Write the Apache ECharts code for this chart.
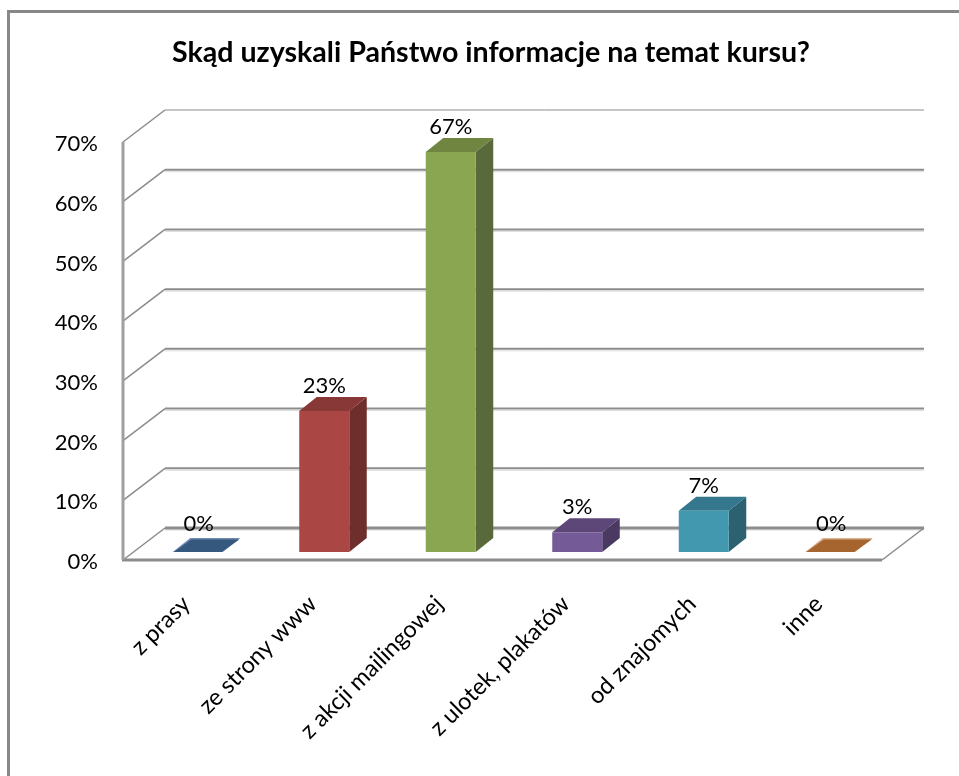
<!DOCTYPE html>
<html><head><meta charset="utf-8">
<style>html,body{margin:0;padding:0;background:#fff}#c{width:959px;height:776px}</style>
<script src="https://cdn.jsdelivr.net/npm/echarts@6/dist/echarts.min.js"></script>
</head><body><div id="c"></div>
<script>
const titleText = 'Skąd uzyskali Państwo informacje na temat kursu?';
const categories = ['z prasy','ze strony www','z akcji mailingowej','z ulotek, plakatów','od znajomych','inne'];
const values = [0, 23.6, 67, 3.3, 6.9, 0];
const valueLabels = ['0%','23%','67%','3%','7%','0%'];
const yTicks = [0,10,20,30,40,50,60,70];
const frontColors = ['#35587f','#aa4644','#8aa650','#745a96','#4299af','#a6652e'];
const topColors   = ['#6f8bb0','#883937','#6f8540','#5c4778','#35778c','#d9b08f'];
const sideColors  = ['#2b4766','#6e2e2c','#59693a','#4a3960','#2b6170','#84501f'];

const DX = 42, DY = 32;            // wall depth
const BX = 11.5, BY = 8;           // bar inset from the front of the floor
const bDX = 17.5, bDY = 14;        // bar depth
const BAR = 50;
const FONT = 'Lato';
const GREY = '#8c8c8c';

function poly(pts, fill, z2){ return {type:'polygon',shape:{points:pts},style:{fill:fill},z2:z2||0}; }
function line(pts, color, w){ return {type:'polyline',shape:{points:pts},style:{stroke:color,lineWidth:w,fill:null}}; }

const chart = echarts.init(document.getElementById('c'),null,{renderer:'canvas'});
chart.setOption({
  animation:false,
  backgroundColor:'#fff',
  title:{text:titleText,left:172,top:38,padding:0,
    textStyle:{fontFamily:FONT,fontWeight:'bold',fontSize:28.6,color:'#000'}},
  grid:{left:123,top:142,width:759,height:418,containLabel:false},
  xAxis:{type:'category',data:categories,boundaryGap:true,
    axisLine:{show:false},axisTick:{show:false},splitLine:{show:false},
    axisLabel:{interval:0,rotate:45,margin:40,fontFamily:FONT,fontSize:23.5,color:'#000'}},
  yAxis:{type:'value',min:0,max:70,interval:10,
    axisLine:{show:false},axisTick:{show:false},splitLine:{show:false},
    axisLabel:{formatter:'{value}%',margin:25,fontFamily:FONT,fontSize:22,color:'#000',verticalAlign:'top',lineHeight:4}},
  graphic:[
    {type:'line',shape:{x1:8.5,y1:11,x2:8.5,y2:776},style:{stroke:'#888',lineWidth:3}},
    {type:'line',shape:{x1:7,y1:11.5,x2:959,y2:11.5},style:{stroke:'#888',lineWidth:3}}
  ],
  series:[
    {type:'custom',coordinateSystem:'cartesian2d',clip:false,z:1,silent:true,
     data:yTicks.map(v=>[0,v]),
     encode:{x:0,y:1},
     renderItem(params,api){
       const cs=params.coordSys, v=api.value(1), y=api.coord([0,v])[1];
       const L=cs.x, R=cs.x+cs.width;
       const kids=[];
       const w = v===70?1:(v===0?3:2);
       if(v!==70) kids.push(line([[L+DX,y-DY+2],[R+DX,y-DY+2]],'#dcdcdc',1));
       kids.push(line([[L+DX,y-DY],[R+DX,y-DY]],GREY,w));
       kids.push(line([[L,y],[L+DX,y-DY]],GREY,1.5));
       if(v===0){
         kids.push(line([[L-1,y],[R,y]],GREY,3));
         kids.push(line([[R,y],[R+DX,y-DY]],GREY,1.5));
       }
       if(v===70) kids.push(line([[L,y],[L,y+cs.height]],'#a0a0a0',3));
       return {type:'group',children:kids};
     }},
    {type:'custom',coordinateSystem:'cartesian2d',clip:false,z:2,silent:true,
     data:values.map((v,i)=>[i,v]),
     encode:{x:0,y:1},
     renderItem(params,api){
       const i=api.value(0), v=api.value(1);
       const base=api.coord([i,0]), tp=api.coord([i,v]);
       const x0=base[0]+BX-BAR/2, x1=x0+BAR, yb=base[1]-BY, yt=tp[1]-BY;
       const kids=[];
       kids.push(poly([[x1,yt],[x1+bDX,yt-bDY],[x1+bDX,yb-bDY],[x1,yb]],sideColors[i]));
       kids.push(poly([[x0,yt],[x0+bDX,yt-bDY],[x1+bDX,yt-bDY],[x1,yt]],topColors[i]));
       if(v>0){
         kids.push(poly([[x0,yt],[x1,yt],[x1,yb],[x0,yb]],frontColors[i]));
       } else {
         kids.push(poly([[x0+1,yb],[x0+bDX+1,yb-bDY+1.5],[x1+bDX-1,yb-bDY+1.5],[x1-1,yb]],frontColors[i]));
       }
       kids.push({type:'text',style:{text:valueLabels[i],x:(x0+x1)/2+(v>0?0:1),y:yt-bDY-(v>0?0:3),
         align:'center',verticalAlign:'bottom',fontFamily:FONT,fontSize:22,fill:'#000'},z2:5});
       return {type:'group',children:kids};
     }}
  ]
});
</script></body></html>
